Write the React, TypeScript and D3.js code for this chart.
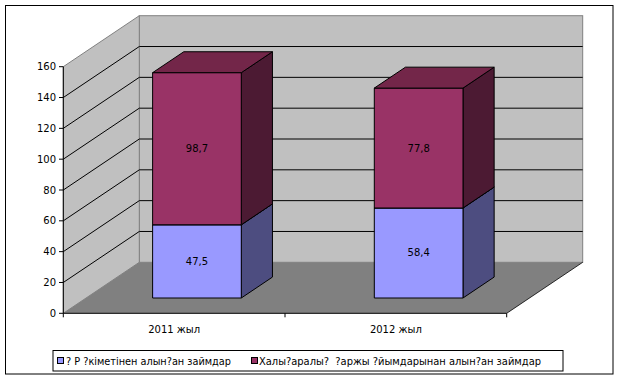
import React from "react";
import * as d3 from "d3";

const categories = ["2011 жыл", "2012 жыл"];
const seriesNames = [
  "? Р ?кіметінен алын?ан займдар",
  "Халы?аралы?  ?аржы ?йымдарынан алын?ан займдар",
];
const series1 = [47.5, 58.4];
const series2 = [98.7, 77.8];
const dataLabels1 = ["47,5", "58,4"];
const dataLabels2 = ["98,7", "77,8"];
const yTicks = [0, 20, 40, 60, 80, 100, 120, 140, 160];

const W = 618;
const H = 386;
const DX = 76;
const DY = -51;
const FONT = "'DejaVu Sans', sans-serif";

const colors = [
  { front: "#9999FF", side: "#4D4D80", top: "#7373BF" },
  { front: "#993366", side: "#4C1A33", top: "#732649" },
];

export default function App() {
  const y = d3.scaleLinear().domain([0, 160]).range([313.3, 66.7]);
  const x = d3.scaleBand<string>().domain(categories).range([63.3, 506.7]).padding(0);
  const step = x.bandwidth();
  const barW = step * 0.4;
  const fFront = 0.3;
  const fBack = 0.71;
  const pt = (px: number, py: number, f: number) => [px + DX * f, py + DY * f];
  const poly = (pts: number[][]) => pts.map((p) => p.join(",")).join(" ");

  const yBack = (v: number) => y(v) + DY;
  const xBackL = 63.3 + DX;
  const xBackR = 506.7 + DX;

  const stacks = categories.map((c, i) => {
    const segs = [
      { v0: 0, v1: series1[i], col: colors[0], label: dataLabels1[i] },
      { v0: series1[i], v1: series1[i] + series2[i], col: colors[1], label: dataLabels2[i] },
    ];
    return { c, segs };
  });

  return (
    <div style={{ position: "fixed", left: 0, top: 0 }}>
      <svg width={W} height={H} style={{ display: "block" }}>
        <rect x={0} y={0} width={W} height={H} fill="#fff" />
        <rect x={5.5} y={5.5} width={607.5} height={368.5} fill="#fff" stroke="#000" strokeWidth={1} />
        {/* back wall */}
        <rect x={xBackL} y={yBack(160)} width={xBackR - xBackL} height={yBack(0) - yBack(160)} fill="#C0C0C0" stroke="#808080" strokeWidth={1} />
        {/* left wall */}
        <polygon
          points={poly([[63.3, y(160)], [xBackL, yBack(160)], [xBackL, yBack(0)], [63.3, y(0)]])}
          fill="#C0C0C0"
          stroke="#808080"
          strokeWidth={1}
        />
        {/* floor */}
        <polygon
          points={poly([[63.3, y(0)], [506.7, y(0)], [xBackR, yBack(0)], [xBackL, yBack(0)]])}
          fill="#808080"
          stroke="none"
        />
        <line x1={506.7} y1={y(0)} x2={xBackR} y2={yBack(0)} stroke="#000" strokeWidth={0.8} />
        {/* gridlines */}
        {yTicks.filter((t) => t > 0 && t < 160).map((t) => (
          <g key={t}>
            <line x1={63.3} y1={y(t)} x2={xBackL} y2={yBack(t)} stroke="#000" strokeWidth={1} />
            <line x1={xBackL} y1={yBack(t)} x2={xBackR} y2={yBack(t)} stroke="#000" strokeWidth={1} />
          </g>
        ))}
        {/* bars */}
        {stacks.map((s) => {
          const cx = (x(s.c) as number) + step / 2;
          const x0 = cx - barW / 2;
          const x1 = cx + barW / 2;
          return (
            <g key={s.c}>
              {s.segs.map((sg, j) => {
                const yb = y(sg.v0);
                const yt = y(sg.v1);
                const fl = pt(x0, yt, fFront);
                const fr = pt(x1, yt, fFront);
                const frb = pt(x1, yb, fFront);
                const flb = pt(x0, yb, fFront);
                const br = pt(x1, yt, fBack);
                const bl = pt(x0, yt, fBack);
                const brb = pt(x1, yb, fBack);
                return (
                  <g key={j}>
                    <polygon points={poly([fr, br, brb, frb])} fill={sg.col.side} stroke="#000" strokeWidth={1} strokeLinejoin="round" />
                    <polygon points={poly([fl, fr, frb, flb])} fill={sg.col.front} stroke="#000" strokeWidth={1} />
                    <polygon points={poly([fl, bl, br, fr])} fill={sg.col.top} stroke="#000" strokeWidth={1} strokeLinejoin="round" />
                    <text
                      x={(fl[0] + fr[0]) / 2}
                      y={(fl[1] + flb[1]) / 2}
                      textAnchor="middle"
                      dominantBaseline="central"
                      fontFamily={FONT}
                      fontSize={10}
                      fill="#000"
                    >
                      {sg.label}
                    </text>
                  </g>
                );
              })}
            </g>
          );
        })}
        {/* y axis */}
        <line x1={63.3} y1={y(0)} x2={63.3} y2={y(160)} stroke="#000" strokeWidth={1} />
        {yTicks.map((t) => (
          <g key={t}>
            <line x1={59} y1={y(t)} x2={63.3} y2={y(t)} stroke="#000" strokeWidth={1} />
            <text x={56} y={y(t)} textAnchor="end" dominantBaseline="central" fontFamily={FONT} fontSize={10} fill="#000">
              {t}
            </text>
          </g>
        ))}
        {/* x axis */}
        <line x1={63.3} y1={y(0)} x2={506.7} y2={y(0)} stroke="#000" strokeWidth={1} />
        {[...categories.map((c) => x(c) as number), 506.7].map((tx, i) => (
          <line key={i} x1={tx} y1={y(0)} x2={tx} y2={y(0) + 4} stroke="#000" strokeWidth={1} />
        ))}
        {categories.map((c) => (
          <text
            key={c}
            x={(x(c) as number) + step / 2}
            y={329.5}
            textAnchor="middle"
            dominantBaseline="central"
            fontFamily={FONT}
            fontSize={10}
            fill="#000"
          >
            {c}
          </text>
        ))}
        {/* legend */}
        <rect x={53} y={350.5} width={510} height={20.5} fill="#fff" stroke="#000" strokeWidth={1} />
        <rect x={57.5} y={357.5} width={6} height={6} fill={colors[0].front} stroke="#000" strokeWidth={1} />
        <text x={66} y={361} dominantBaseline="central" fontFamily={FONT} fontSize={10} textLength={165} lengthAdjust="spacingAndGlyphs" fill="#000" style={{ whiteSpace: "pre" }}>
          {seriesNames[0]}
        </text>
        <rect x={251.5} y={357.5} width={6} height={6} fill={colors[1].front} stroke="#000" strokeWidth={1} />
        <text x={259} y={361} dominantBaseline="central" fontFamily={FONT} fontSize={10} textLength={282} lengthAdjust="spacingAndGlyphs" fill="#000" style={{ whiteSpace: "pre" }}>
          {seriesNames[1]}
        </text>
      </svg>
    </div>
  );
}
